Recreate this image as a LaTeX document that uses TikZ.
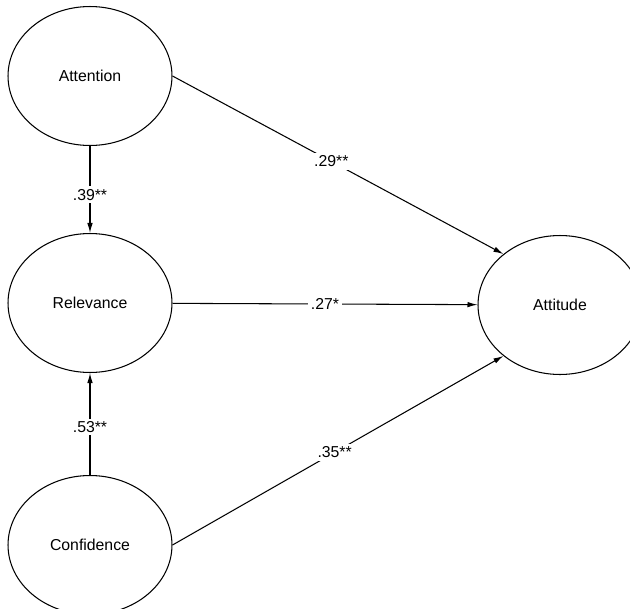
\documentclass[tikz,border=0pt]{standalone}
\usepackage{fontspec}
\setmainfont{Liberation Sans}
\usetikzlibrary{arrows.meta}
\usetikzlibrary{shapes.geometric}

\begin{document}
\begin{tikzpicture}[x=0.02cm,y=-0.02cm,line width=0.6pt,
    every node/.style={font=\fontsize{9}{11}\selectfont},
    var/.style={draw,ellipse,minimum width=3.28cm,minimum height=2.78cm,inner sep=0pt},
    path/.style={-{Latex[length=2mm,width=1.1mm]}},
    coef/.style={fill=white,inner sep=1.5pt}]

\clip (0,0) rectangle (630,609);

\node[var] (att) at (90,76) {Attention};
\node[var] (rel) at (90,303) {Relevance};
\node[var] (con) at (90,545) {Confidence};
\node[var] (atd) at (560,305) {Attitude};

\draw[path] (att) -- node[coef,pos=0.56]{.39**} (rel);
\draw[path] (con) -- node[coef,pos=0.47]{.53**} (rel);

\draw[path] (att.east) -- node[coef,pos=0.48]{.29**} (atd.138);
\draw[path] (rel) -- node[coef,pos=0.5]{.27*} (atd);
\draw[path] (con.east) -- node[coef,pos=0.49]{.35**} (atd.222);

\end{tikzpicture}
\end{document}
